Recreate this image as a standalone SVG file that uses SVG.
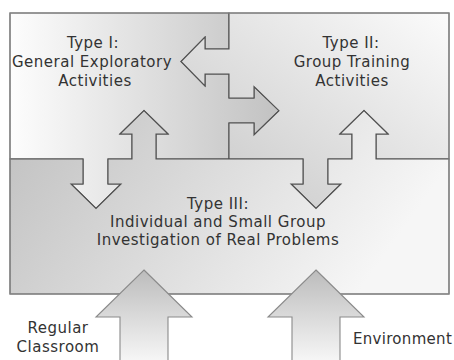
<svg xmlns="http://www.w3.org/2000/svg" width="454" height="360" viewBox="0 0 454 360">
<style>
.region{stroke:#505050;stroke-width:1.1;stroke-linejoin:miter}
.lbl{font-family:"DejaVu Sans",Verdana,sans-serif;font-size:15px;letter-spacing:0.5px;fill:#333;text-anchor:middle}
.side{font-family:"DejaVu Sans",Verdana,sans-serif;font-size:15px;letter-spacing:0.3px;fill:#333}
.big{stroke:#8a8a8a;stroke-width:1.1;fill:url(#gArrow)}
</style>
<defs>
<linearGradient id="g1" x1="0" y1="0" x2="1" y2="0">
<stop offset="0" stop-color="#fdfdfd"/>
<stop offset="1" stop-color="#c2c2c2"/>
</linearGradient>
<linearGradient id="g2" x1="0" y1="1" x2="1" y2="0">
<stop offset="0" stop-color="#c6c6c6"/>
<stop offset="1" stop-color="#fbfbfb"/>
</linearGradient>
<linearGradient id="g3" x1="0" y1="0" x2="1" y2="0.3">
<stop offset="0" stop-color="#c0c0c0"/>
<stop offset="1" stop-color="#f6f6f6"/>
</linearGradient>
<linearGradient id="gArrow" x1="0" y1="0" x2="0" y2="1">
<stop offset="0" stop-color="#bcbcbc"/>
<stop offset="1" stop-color="#f6f6f6"/>
</linearGradient>
</defs>
<g id="type1">
<path class="region" fill="url(#g1)" d="M10,13 H229 V49 H205 V37 L181,61.5 L205,86 V74 H229 V98 H254 V86.5 L279,110.7 L254,135 V123 H229 V159 H156 V134 H168 L144,110.5 L120,134 H132 V159 H108 V184 H121 L96,208.5 L71,184 H83 V159 H10 Z"/>
<text class="lbl" x="93" y="48">Type I:</text>
<text class="lbl" x="92" y="67">General Exploratory</text>
<text class="lbl" x="95" y="86">Activities</text>
</g>
<g id="type2">
<path class="region" fill="url(#g2)" d="M229,13 H449 V159 H376 V134 H388 L364,110.5 L340,134 H352 V159 H328 V184 H341 L316,208.5 L291,184 H303 V159 H229 V123 H254 V135 L279,110.7 L254,86.5 V98 H229 V74 H205 V86 L181,61.5 L205,37 V49 H229 Z"/>
<text class="lbl" x="351" y="48">Type II:</text>
<text class="lbl" x="352" y="67">Group Training</text>
<text class="lbl" x="352" y="86">Activities</text>
</g>
<g id="type3">
<path class="region" fill="url(#g3)" d="M10,159 H83 V184 H71 L96,208.5 L121,184 H108 V159 H132 V134 H120 L144,110.5 L168,134 H156 V159 H303 V184 H291 L316,208.5 L341,184 H328 V159 H352 V134 H340 L364,110.5 L388,134 H376 V159 H449 V294 H10 Z"/>
<text class="lbl" x="218" y="209">Type III:</text>
<text class="lbl" x="218" y="227">Individual and Small Group</text>
<text class="lbl" x="218" y="245">Investigation of Real Problems</text>
</g>
<rect x="10" y="13" width="439" height="281" fill="none" stroke="#8a8a8a" stroke-width="1.1"/>
<g id="connectors">
<path class="big" d="M144,270 L192,317 H168 V361 H120 V317 H96 Z"/>
<path class="big" d="M316,270 L364,317 H340 V361 H292 V317 H268 Z"/>
</g>
<g id="regular">
<text class="lbl" x="58" y="333">Regular</text>
<text class="lbl" x="58" y="352">Classroom</text>
</g>
<g id="environment">
<text class="side" x="353" y="344">Environment</text>
</g>
</svg>
